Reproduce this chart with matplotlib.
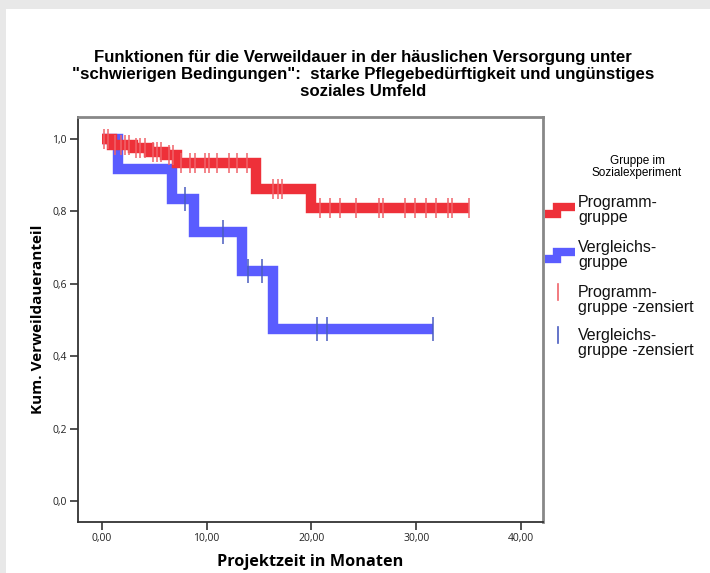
import numpy as np
import matplotlib
matplotlib.use('Agg')
import matplotlib.pyplot as plt
from matplotlib.lines import Line2D
from matplotlib.patches import Rectangle

# Kaplan-Meier Stufen (Zeitpunkt, Verweildaueranteil danach)
prog_t = [0.0, 1.0, 3.0, 4.5, 6.0, 7.2, 14.7, 20.0, 35.0]
prog_s = [1.0, 0.985, 0.975, 0.965, 0.955, 0.935, 0.862, 0.809, 0.809]
prog_cens = [0.2, 0.6, 1.3, 1.8, 2.2, 2.6, 3.3, 3.7, 4.1, 4.9, 5.3, 5.7, 6.4, 6.8,
             7.6, 8.4, 8.9, 9.9, 10.2, 11.0, 12.1, 12.9, 13.9, 16.3, 16.8, 17.2,
             20.8, 21.8, 22.7, 24.3, 26.5, 26.8, 28.9, 29.9, 30.9, 31.9, 33.0,
             33.4, 35.0]

verg_t = [0.0, 1.6, 6.7, 8.8, 13.4, 16.3, 31.6]
verg_s = [1.0, 0.918, 0.834, 0.743, 0.635, 0.475, 0.475]
verg_cens = [7.95, 11.6, 14.0, 15.3, 20.5, 21.5, 31.6]

x_ticks = [0, 10, 20, 30, 40]
y_ticks = [0.0, 0.2, 0.4, 0.6, 0.8, 1.0]

red = '#ee3039'
blue = '#5a5cff'
red_c = '#f0636a'
blue_c = '#4a5cc0'


def surv_at(times, surv, t):
    idx = np.searchsorted(times, t, side='right') - 1
    return np.array(surv)[idx]


W, H = 710, 573
fig = plt.figure(figsize=(W / 100, H / 100), dpi=100, facecolor='#e8e8e8')
fig.patches.append(Rectangle((6 / W, 0), 1, 1 - 9 / H, transform=fig.transFigure,
                             facecolor='white', edgecolor='none', zorder=-10))

ax = fig.add_axes([78 / W, 1 - 522 / H, (543 - 78) / W, (522 - 117) / H])
ax.set_facecolor('white')

ax.step(prog_t, prog_s, where='post', color=red, lw=7.5, solid_joinstyle='miter',
        solid_capstyle='butt', zorder=3)
ax.step(verg_t, verg_s, where='post', color=blue, lw=7.5, solid_joinstyle='miter',
        solid_capstyle='butt', zorder=2)
ax.plot(prog_cens, surv_at(prog_t, prog_s, prog_cens), ls='none', marker='|',
        ms=15, mew=1.1, color=red_c, zorder=4)
ax.plot(verg_cens, surv_at(verg_t, verg_s, verg_cens), ls='none', marker='|',
        ms=17, mew=1.1, color=blue_c, zorder=4)

ax.set_xlim(-2.26, 42.1)
ax.set_ylim(-0.058, 1.061)
ax.set_xticks(x_ticks)
ax.set_xticklabels([f'{v:.2f}'.replace('.', ',') for v in x_ticks])
ax.set_yticks(y_ticks)
ax.set_yticklabels([f'{v:.1f}'.replace('.', ',') for v in y_ticks])
ax.tick_params(direction='out', length=6, width=1.2, color='#333333',
               labelsize=7.5, labelcolor='#222222', pad=2)
for lab in ax.get_xticklabels() + ax.get_yticklabels():
    lab.set_family('Open Sans')

for side in ['left', 'bottom']:
    ax.spines[side].set_color('#333333')
    ax.spines[side].set_linewidth(1.3)
for side in ['top', 'right']:
    ax.spines[side].set_color('#888888')
    ax.spines[side].set_linewidth(2)

ax.set_xlabel('Projektzeit in Monaten', fontsize=11.7, fontweight='bold',
              family='Open Sans', labelpad=7)
ax.set_ylabel('Kum. Verweildaueranteil', fontsize=11, fontweight='bold',
              family='Open Sans', labelpad=5)

fig.text(363 / W, 1 - 50 / H,
         'Funktionen für die Verweildauer in der häuslichen Versorgung unter\n'
         '"schwierigen Bedingungen":  starke Pflegebedürftigkeit und ungünstiges\n'
         'soziales Umfeld',
         ha='center', va='top', fontsize=12.1, fontweight='bold',
         family='Liberation Sans', linespacing=1.17)

# Legende (von Hand gesetzt)
fig.text(637 / W, 1 - 167 / H, 'Gruppe im\nSozialexperiment', ha='center',
         va='center', fontsize=8.5, family='Liberation Sans', linespacing=1.0)


def px(x, y):
    return x / W, 1 - y / H


def step_icon(y, color):
    xs = [545, 557, 557, 575]
    ys = [y + 4, y + 4, y - 3, y - 3]
    fig.add_artist(Line2D([px(a, b)[0] for a, b in zip(xs, ys)],
                          [px(a, b)[1] for a, b in zip(xs, ys)],
                          color=color, lw=6, solid_joinstyle='miter',
                          solid_capstyle='butt', transform=fig.transFigure))


def cens_icon(y, color):
    fig.add_artist(Line2D([px(558, y - 8)[0]] * 2, [px(558, y - 8)[1], px(558, y + 8)[1]],
                          color=color, lw=1.2, transform=fig.transFigure))


entries = [('Programm-\ngruppe', 210, lambda y: step_icon(y, red)),
           ('Vergleichs-\ngruppe', 255, lambda y: step_icon(y, blue)),
           ('Programm-\ngruppe -zensiert', 300, lambda y: cens_icon(y - 8, red_c)),
           ('Vergleichs-\ngruppe -zensiert', 343, lambda y: cens_icon(y - 8, blue_c))]
for label, yc, icon in entries:
    icon(yc)
    fig.text(578 / W, 1 - yc / H, label, ha='left', va='center', fontsize=11.5,
             family='Liberation Sans', linespacing=0.95, color='#111111')

fig.savefig('out.png', dpi=100, facecolor=fig.get_facecolor())
